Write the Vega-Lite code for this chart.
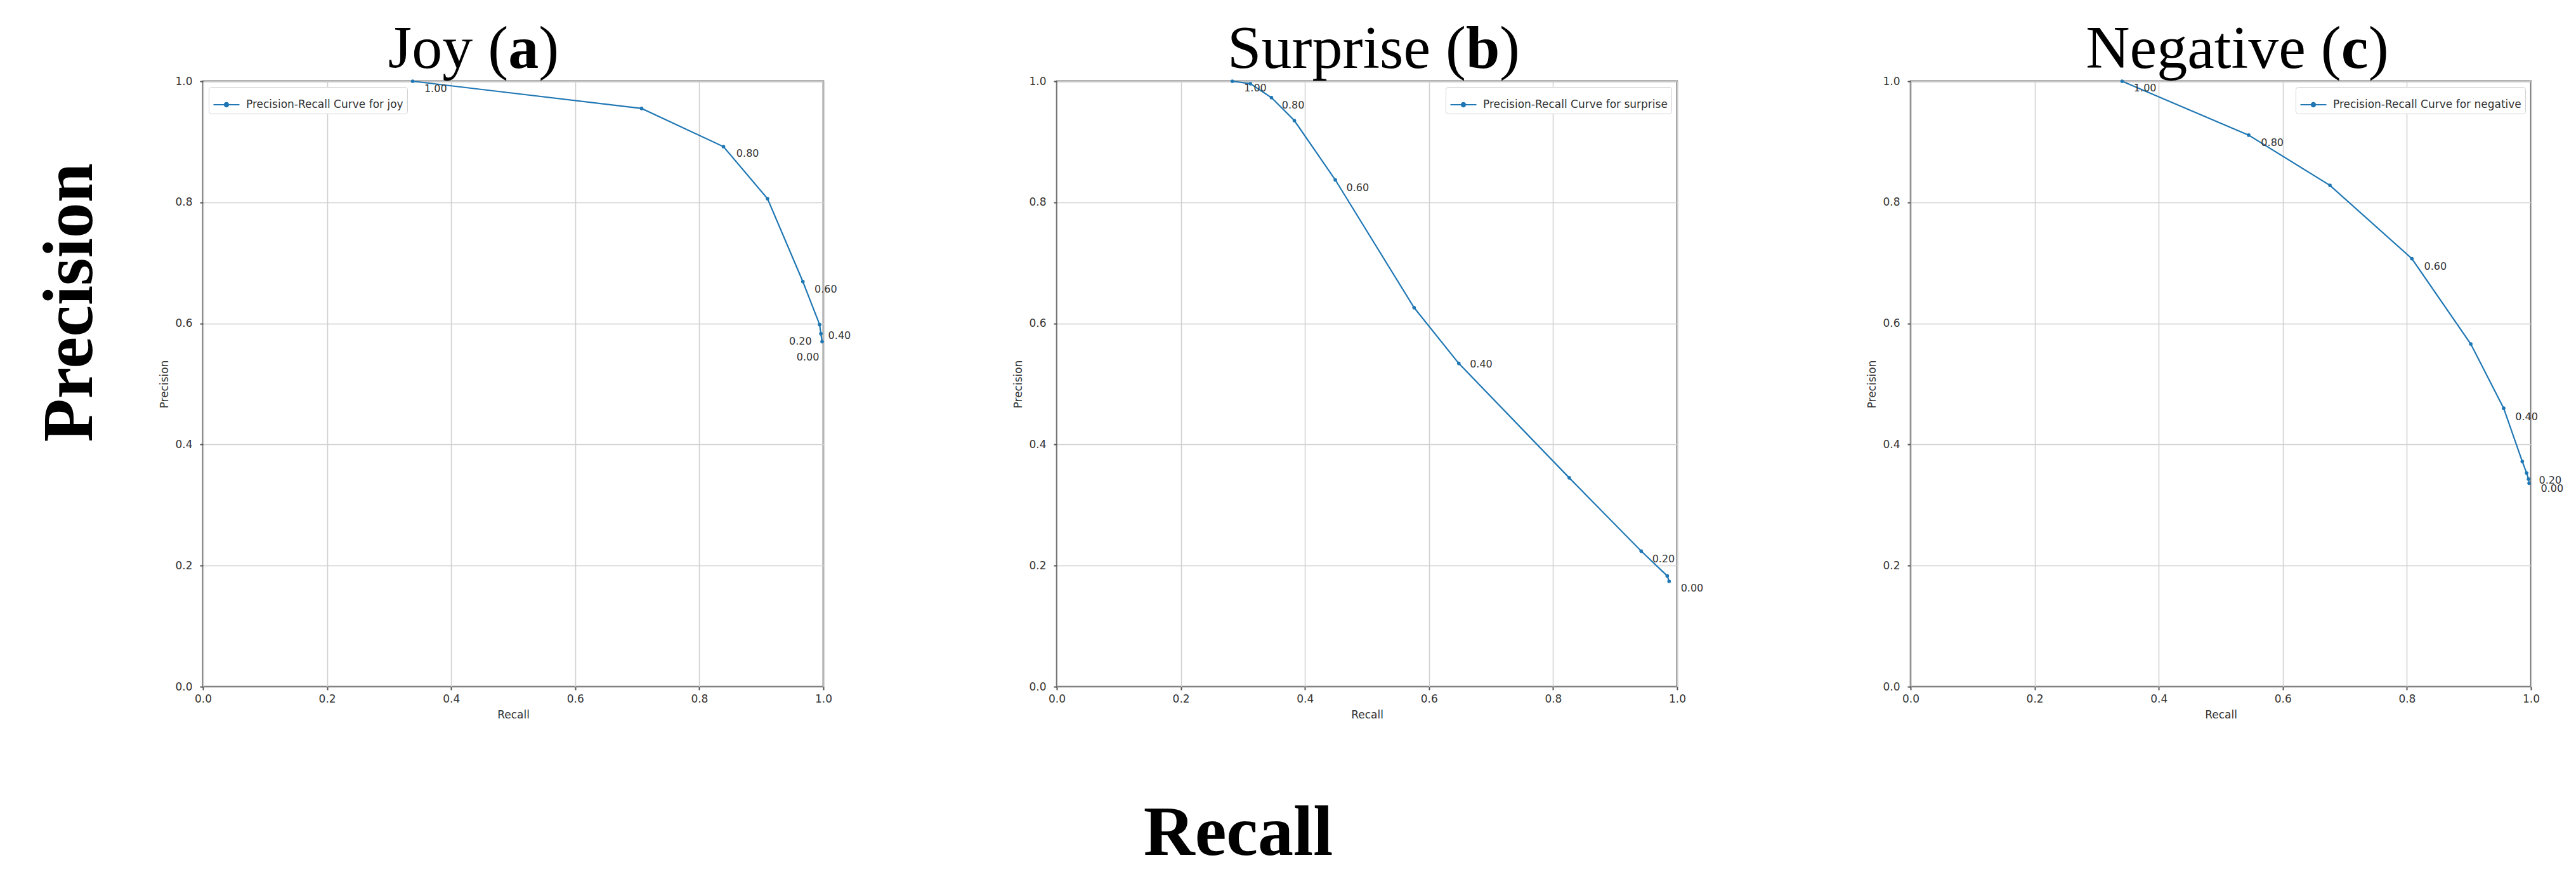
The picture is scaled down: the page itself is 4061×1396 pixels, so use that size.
{
  "$schema": "https://vega.github.io/schema/vega-lite/v6.json",
  "background": "white",
  "padding": {"left": 54, "top": 28, "right": 10, "bottom": 10},
  "datasets": {
    "curves": [
      {"panel": "joy", "series": "Precision-Recall Curve for joy", "recall": 0.338, "precision": 1.0},
      {"panel": "joy", "series": "Precision-Recall Curve for joy", "recall": 0.707, "precision": 0.955},
      {"panel": "joy", "series": "Precision-Recall Curve for joy", "recall": 0.839, "precision": 0.892},
      {"panel": "joy", "series": "Precision-Recall Curve for joy", "recall": 0.910, "precision": 0.806},
      {"panel": "joy", "series": "Precision-Recall Curve for joy", "recall": 0.967, "precision": 0.669},
      {"panel": "joy", "series": "Precision-Recall Curve for joy", "recall": 0.994, "precision": 0.598},
      {"panel": "joy", "series": "Precision-Recall Curve for joy", "recall": 0.996, "precision": 0.583},
      {"panel": "joy", "series": "Precision-Recall Curve for joy", "recall": 0.998, "precision": 0.570},
      {"panel": "surprise", "series": "Precision-Recall Curve for surprise", "recall": 0.283, "precision": 1.0},
      {"panel": "surprise", "series": "Precision-Recall Curve for surprise", "recall": 0.312, "precision": 0.996},
      {"panel": "surprise", "series": "Precision-Recall Curve for surprise", "recall": 0.346, "precision": 0.973},
      {"panel": "surprise", "series": "Precision-Recall Curve for surprise", "recall": 0.383, "precision": 0.935},
      {"panel": "surprise", "series": "Precision-Recall Curve for surprise", "recall": 0.449, "precision": 0.837},
      {"panel": "surprise", "series": "Precision-Recall Curve for surprise", "recall": 0.576, "precision": 0.626},
      {"panel": "surprise", "series": "Precision-Recall Curve for surprise", "recall": 0.648, "precision": 0.534},
      {"panel": "surprise", "series": "Precision-Recall Curve for surprise", "recall": 0.826, "precision": 0.345},
      {"panel": "surprise", "series": "Precision-Recall Curve for surprise", "recall": 0.942, "precision": 0.224},
      {"panel": "surprise", "series": "Precision-Recall Curve for surprise", "recall": 0.984, "precision": 0.183},
      {"panel": "surprise", "series": "Precision-Recall Curve for surprise", "recall": 0.987, "precision": 0.174},
      {"panel": "negative", "series": "Precision-Recall Curve for negative", "recall": 0.341, "precision": 1.0},
      {"panel": "negative", "series": "Precision-Recall Curve for negative", "recall": 0.545, "precision": 0.911},
      {"panel": "negative", "series": "Precision-Recall Curve for negative", "recall": 0.676, "precision": 0.828},
      {"panel": "negative", "series": "Precision-Recall Curve for negative", "recall": 0.808, "precision": 0.707},
      {"panel": "negative", "series": "Precision-Recall Curve for negative", "recall": 0.903, "precision": 0.566},
      {"panel": "negative", "series": "Precision-Recall Curve for negative", "recall": 0.956, "precision": 0.460},
      {"panel": "negative", "series": "Precision-Recall Curve for negative", "recall": 0.986, "precision": 0.372},
      {"panel": "negative", "series": "Precision-Recall Curve for negative", "recall": 0.993, "precision": 0.353},
      {"panel": "negative", "series": "Precision-Recall Curve for negative", "recall": 0.996, "precision": 0.343},
      {"panel": "negative", "series": "Precision-Recall Curve for negative", "recall": 0.997, "precision": 0.336}
    ],
    "labels": [
      {"panel": "joy", "threshold": "1.00", "recall": 0.375, "precision": 0.987},
      {"panel": "joy", "threshold": "0.80", "recall": 0.878, "precision": 0.881},
      {"panel": "joy", "threshold": "0.60", "recall": 1.004, "precision": 0.656},
      {"panel": "joy", "threshold": "0.40", "recall": 1.026, "precision": 0.580},
      {"panel": "joy", "threshold": "0.20", "recall": 0.963, "precision": 0.570},
      {"panel": "joy", "threshold": "0.00", "recall": 0.975, "precision": 0.544},
      {"panel": "surprise", "threshold": "1.00", "recall": 0.320, "precision": 0.988},
      {"panel": "surprise", "threshold": "0.80", "recall": 0.381, "precision": 0.960},
      {"panel": "surprise", "threshold": "0.60", "recall": 0.485, "precision": 0.824},
      {"panel": "surprise", "threshold": "0.40", "recall": 0.684, "precision": 0.532},
      {"panel": "surprise", "threshold": "0.20", "recall": 0.978, "precision": 0.211},
      {"panel": "surprise", "threshold": "0.00", "recall": 1.024, "precision": 0.162},
      {"panel": "negative", "threshold": "1.00", "recall": 0.378, "precision": 0.988},
      {"panel": "negative", "threshold": "0.80", "recall": 0.583, "precision": 0.898},
      {"panel": "negative", "threshold": "0.60", "recall": 0.846, "precision": 0.694},
      {"panel": "negative", "threshold": "0.40", "recall": 0.993, "precision": 0.446},
      {"panel": "negative", "threshold": "0.20", "recall": 1.031, "precision": 0.341},
      {"panel": "negative", "threshold": "0.00", "recall": 1.034, "precision": 0.327}
    ],
    "titles": [
      {"panel": "joy", "name": "Joy (", "letter": "a", "close": ")"},
      {"panel": "surprise", "name": "Surprise (", "letter": "b", "close": ")"},
      {"panel": "negative", "name": "Negative (", "letter": "c", "close": ")"}
    ]
  },
  "title": {"text": "Precision", "orient": "left", "anchor": "middle", "frame": "bounds", "font": "Liberation Serif", "fontSize": 112, "fontWeight": "bold", "color": "#000000", "baseline": "alphabetic", "offset": -7, "dx": 222},
  "bounds": "flush",
  "hconcat": [
    {
      "title": {"text": "Recall", "orient": "bottom", "anchor": "middle", "frame": "bounds", "font": "Liberation Serif", "fontSize": 112, "fontWeight": "bold", "color": "#000000", "baseline": "alphabetic", "offset": 212, "dx": -194},
      "bounds": "flush",
      "spacing": 368,
      "resolve": {"scale": {"color": "independent"}, "legend": {"color": "independent"}},
      "hconcat": [
        {
          "width": 978, "height": 954,
          "layer": [
            {
              "data": {"name": "curves"},
              "transform": [{"filter": "datum.panel === 'joy'"}],
              "mark": {"type": "line", "strokeWidth": 2.2, "point": {"filled": true, "size": 32}},
              "encoding": {
                "x": {"field": "recall", "type": "quantitative", "scale": {"domain": [0, 1]}, "axis": {"title": "Recall", "tickCount": 5, "format": ".1f"}},
                "y": {"field": "precision", "type": "quantitative", "scale": {"domain": [0, 1]}, "axis": {"title": "Precision", "tickCount": 5, "format": ".1f"}},
                "color": {"field": "series", "type": "nominal", "scale": {"range": ["#1f77b4"]}, "legend": {"title": null, "orient": "top-left", "encode": {"symbols": {"update": {"fill": {"value": "#1f77b4"}, "stroke": {"value": "#1f77b4"}, "strokeWidth": {"value": 2.2}, "opacity": {"value": 1}}}}}}
              }
            },
            {
              "data": {"name": "labels"},
              "transform": [{"filter": "datum.panel === 'joy'"}],
              "mark": {"type": "text", "font": "DejaVu Sans", "fontSize": 16, "fill": "#333333"},
              "encoding": {"x": {"field": "recall", "type": "quantitative"}, "y": {"field": "precision", "type": "quantitative"}, "text": {"field": "threshold"}}
            },
            {
              "data": {"name": "titles"},
              "transform": [{"filter": "datum.panel === 'joy'"}],
              "mark": {"type": "text", "font": "Liberation Serif", "fontSize": 96, "align": "right", "baseline": "alphabetic", "dy": -21.5, "fill": "#000000"},
              "encoding": {"x": {"datum": 0.492, "type": "quantitative"}, "y": {"datum": 1, "type": "quantitative"}, "text": {"field": "name"}}
            },
            {
              "data": {"name": "titles"},
              "transform": [{"filter": "datum.panel === 'joy'"}],
              "mark": {"type": "text", "font": "Liberation Serif", "fontSize": 96, "fontWeight": "bold", "align": "left", "baseline": "alphabetic", "dy": -21.5, "fill": "#000000"},
              "encoding": {"x": {"datum": 0.492, "type": "quantitative"}, "y": {"datum": 1, "type": "quantitative"}, "text": {"field": "letter"}}
            },
            {
              "data": {"name": "titles"},
              "transform": [{"filter": "datum.panel === 'joy'"}],
              "mark": {"type": "text", "font": "Liberation Serif", "fontSize": 96, "align": "left", "baseline": "alphabetic", "dx": 48, "dy": -21.5, "fill": "#000000"},
              "encoding": {"x": {"datum": 0.492, "type": "quantitative"}, "y": {"datum": 1, "type": "quantitative"}, "text": {"field": "close"}}
            }
          ]
        },
        {
          "width": 978, "height": 954,
          "layer": [
            {
              "data": {"name": "curves"},
              "transform": [{"filter": "datum.panel === 'surprise'"}],
              "mark": {"type": "line", "strokeWidth": 2.2, "point": {"filled": true, "size": 32}},
              "encoding": {
                "x": {"field": "recall", "type": "quantitative", "scale": {"domain": [0, 1]}, "axis": {"title": "Recall", "tickCount": 5, "format": ".1f"}},
                "y": {"field": "precision", "type": "quantitative", "scale": {"domain": [0, 1]}, "axis": {"title": "Precision", "tickCount": 5, "format": ".1f"}},
                "color": {"field": "series", "type": "nominal", "scale": {"range": ["#1f77b4"]}, "legend": {"title": null, "orient": "top-right", "encode": {"symbols": {"update": {"fill": {"value": "#1f77b4"}, "stroke": {"value": "#1f77b4"}, "strokeWidth": {"value": 2.2}, "opacity": {"value": 1}}}}}}
              }
            },
            {
              "data": {"name": "labels"},
              "transform": [{"filter": "datum.panel === 'surprise'"}],
              "mark": {"type": "text", "font": "DejaVu Sans", "fontSize": 16, "fill": "#333333"},
              "encoding": {"x": {"field": "recall", "type": "quantitative"}, "y": {"field": "precision", "type": "quantitative"}, "text": {"field": "threshold"}}
            },
            {
              "data": {"name": "titles"},
              "transform": [{"filter": "datum.panel === 'surprise'"}],
              "mark": {"type": "text", "font": "Liberation Serif", "fontSize": 96, "align": "right", "baseline": "alphabetic", "dy": -21.5, "fill": "#000000"},
              "encoding": {"x": {"datum": 0.6595, "type": "quantitative"}, "y": {"datum": 1, "type": "quantitative"}, "text": {"field": "name"}}
            },
            {
              "data": {"name": "titles"},
              "transform": [{"filter": "datum.panel === 'surprise'"}],
              "mark": {"type": "text", "font": "Liberation Serif", "fontSize": 96, "fontWeight": "bold", "align": "left", "baseline": "alphabetic", "dy": -21.5, "fill": "#000000"},
              "encoding": {"x": {"datum": 0.6595, "type": "quantitative"}, "y": {"datum": 1, "type": "quantitative"}, "text": {"field": "letter"}}
            },
            {
              "data": {"name": "titles"},
              "transform": [{"filter": "datum.panel === 'surprise'"}],
              "mark": {"type": "text", "font": "Liberation Serif", "fontSize": 96, "align": "left", "baseline": "alphabetic", "dx": 53, "dy": -21.5, "fill": "#000000"},
              "encoding": {"x": {"datum": 0.6595, "type": "quantitative"}, "y": {"datum": 1, "type": "quantitative"}, "text": {"field": "close"}}
            }
          ]
        },
        {
          "width": 978, "height": 954,
          "layer": [
            {
              "data": {"name": "curves"},
              "transform": [{"filter": "datum.panel === 'negative'"}],
              "mark": {"type": "line", "strokeWidth": 2.2, "point": {"filled": true, "size": 32}},
              "encoding": {
                "x": {"field": "recall", "type": "quantitative", "scale": {"domain": [0, 1]}, "axis": {"title": "Recall", "tickCount": 5, "format": ".1f"}},
                "y": {"field": "precision", "type": "quantitative", "scale": {"domain": [0, 1]}, "axis": {"title": "Precision", "tickCount": 5, "format": ".1f"}},
                "color": {"field": "series", "type": "nominal", "scale": {"range": ["#1f77b4"]}, "legend": {"title": null, "orient": "top-right", "encode": {"symbols": {"update": {"fill": {"value": "#1f77b4"}, "stroke": {"value": "#1f77b4"}, "strokeWidth": {"value": 2.2}, "opacity": {"value": 1}}}}}}
              }
            },
            {
              "data": {"name": "labels"},
              "transform": [{"filter": "datum.panel === 'negative'"}],
              "mark": {"type": "text", "font": "DejaVu Sans", "fontSize": 16, "fill": "#333333"},
              "encoding": {"x": {"field": "recall", "type": "quantitative"}, "y": {"field": "precision", "type": "quantitative"}, "text": {"field": "threshold"}}
            },
            {
              "data": {"name": "titles"},
              "transform": [{"filter": "datum.panel === 'negative'"}],
              "mark": {"type": "text", "font": "Liberation Serif", "fontSize": 96, "align": "right", "baseline": "alphabetic", "dy": -21.5, "fill": "#000000"},
              "encoding": {"x": {"datum": 0.694, "type": "quantitative"}, "y": {"datum": 1, "type": "quantitative"}, "text": {"field": "name"}}
            },
            {
              "data": {"name": "titles"},
              "transform": [{"filter": "datum.panel === 'negative'"}],
              "mark": {"type": "text", "font": "Liberation Serif", "fontSize": 96, "fontWeight": "bold", "align": "left", "baseline": "alphabetic", "dy": -21.5, "fill": "#000000"},
              "encoding": {"x": {"datum": 0.694, "type": "quantitative"}, "y": {"datum": 1, "type": "quantitative"}, "text": {"field": "letter"}}
            },
            {
              "data": {"name": "titles"},
              "transform": [{"filter": "datum.panel === 'negative'"}],
              "mark": {"type": "text", "font": "Liberation Serif", "fontSize": 96, "align": "left", "baseline": "alphabetic", "dx": 43, "dy": -21.5, "fill": "#000000"},
              "encoding": {"x": {"datum": 0.694, "type": "quantitative"}, "y": {"datum": 1, "type": "quantitative"}, "text": {"field": "close"}}
            }
          ]
        }
      ]
    }
  ],
  "config": {
    "font": "DejaVu Sans",
    "view": {"stroke": "#555555", "strokeWidth": 2.5},
    "axis": {"domain": false, "grid": true, "gridColor": "#cfcfcf", "gridWidth": 1.5, "ticks": true, "tickColor": "#555555", "tickSize": 5, "tickWidth": 2, "labelFont": "DejaVu Sans", "labelFontSize": 17, "labelColor": "#333333", "titleFont": "DejaVu Sans", "titleFontSize": 17, "titleFontWeight": "normal", "titleColor": "#333333", "labelFlush": false},
    "axisX": {"labelPadding": 6, "titlePadding": 9},
    "axisY": {"labelPadding": 12, "titlePadding": 7},
    "legend": {"offset": 9, "padding": 6, "strokeColor": "#d0d0d0", "fillColor": "#ffffff", "cornerRadius": 4, "labelFont": "DejaVu Sans", "labelFontSize": 17, "labelColor": "#333333", "labelOffset": 9, "labelLimit": 0, "symbolSize": 1681, "symbolStrokeWidth": 2.2, "symbolType": "M-1,0H1M-0.15,0A0.15,0.15,0,1,0,0.15,0A0.15,0.15,0,1,0,-0.15,0Z", "symbolFillColor": "#1f77b4", "symbolStrokeColor": "#1f77b4"}
  }
}
